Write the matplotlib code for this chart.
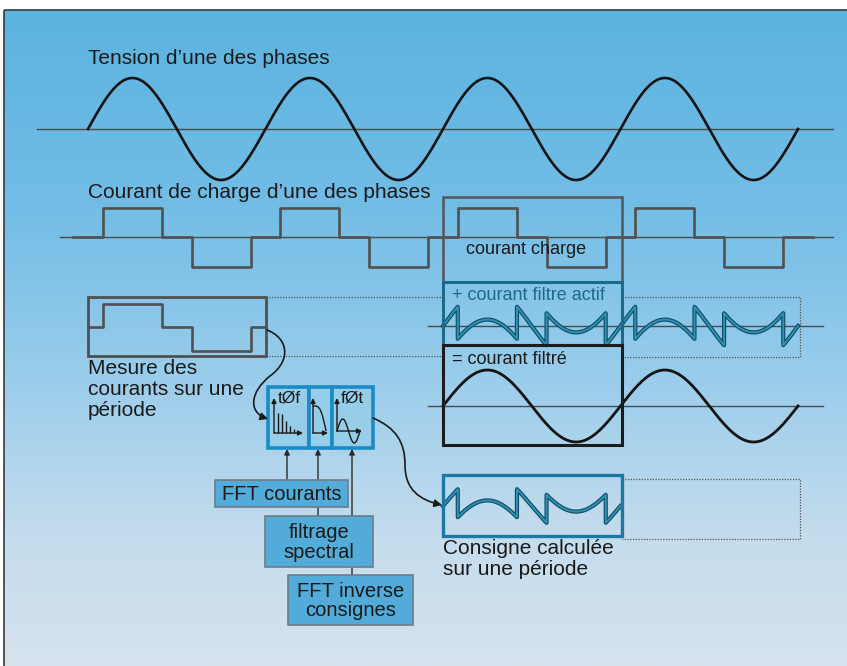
import numpy as np
import matplotlib.pyplot as plt
import matplotlib.transforms as mtransforms
from matplotlib.colors import LinearSegmentedColormap
from matplotlib.patches import Rectangle, FancyArrowPatch
from matplotlib.path import Path

plt.rcParams['font.family'] = ['Liberation Sans', 'DejaVu Sans']

# --- waveform data (angle in degrees, levels relative to the load step) ---
n_periods_voltage = 4
load_edges_deg = [0, 30, 150, 210, 330, 360]      # 120 degree conduction blocks
load_levels = [0, 1, 0, -1, 0]
fund_amp = 1.2                                    # fundamental seen by the filter
spectrum = [20, 19, 12, 7, 4]                     # harmonic bars in the FFT icon
filter_gain = [1.0, 1.0, 0.97, 0.88, 0.7, 0.42, 0.1]

labels_left = ["Tension d\u2019une des phases",
               "Courant de charge d\u2019une des phases"]
mesure_label = "Mesure des\ncourants sur une\np\u00e9riode"
consigne_label = "Consigne calcul\u00e9e\nsur une p\u00e9riode"
box_labels = ["FFT courants", "filtrage\nspectral", "FFT inverse\nconsignes"]

# --- layout ---
W, H = 847, 666
X0 = 88          # pixel x of angle 0
PERIOD = 177.5   # pixels per 360 degrees
FS = 15

fig = plt.figure(figsize=(W / 100, H / 100), dpi=100)
fig.patch.set_facecolor('white')
ax = fig.add_axes([0, 0, 1, 1])
ax.set_xlim(0, W)
ax.set_ylim(H, 0)
ax.axis('off')

# background gradient inside the frame
bg = LinearSegmentedColormap.from_list('bg', [
    (0.0, '#5cb3e0'), (0.3, '#72bde6'), (0.55, '#98cceb'),
    (0.8, '#c4dced'), (1.0, '#d6e3ee')])
grad = np.linspace(0, 1, 256).reshape(-1, 1)
ax.imshow(grad, cmap=bg, extent=(4, W, H, 10), aspect='auto', zorder=0)
ax.add_patch(Rectangle((4, 10), W, H, fill=False, ec='#3a3a3a', lw=1.2, zorder=1))


def strip(y0, unit):
    # angle (deg) -> pixel x, level -> pixel y (upwards)
    return mtransforms.Affine2D().scale(PERIOD / 360, -unit).translate(X0, y0) + ax.transData


def load(theta):
    t = np.mod(theta, 360)
    idx = np.clip(np.searchsorted(load_edges_deg, t, side='right') - 1, 0, len(load_levels) - 1)
    return np.array(load_levels)[idx]


def load_steps(t0, t1):
    edges = [e + 360 * k for k in range(-1, 6) for e in load_edges_deg[1:-1]]
    edges = [e for e in edges if t0 < e < t1]
    xs = [t0] + [e for e in edges for _ in (0, 1)] + [t1]
    pts = [t0] + edges + [t1]
    ys = []
    for a, b in zip(pts[:-1], pts[1:]):
        lv = load((a + b) / 2)
        ys += [lv, lv]
    return np.array(xs), np.array(ys)


def hline(y, x1, x2):
    ax.plot([x1, x2], [y, y], color='#4a4a4a', lw=1.0, zorder=2)


# --- voltage ---
hline(129, 37, 833)
th = np.linspace(0, 360 * n_periods_voltage, 1500)
ax.plot(th, np.sin(np.radians(th)), color='#141414', lw=1.9, transform=strip(129, 51), zorder=3)
ax.text(88, 58, labels_left[0], fontsize=FS, va='center', color='#1a1a1a')

# --- load current ---
hline(237, 60, 833)
lx, ly = load_steps(-30, 1470)
ax.plot(lx, ly, color='#505050', lw=1.9, transform=strip(237, 29.5), zorder=3)
ax.text(88, 192, labels_left[1], fontsize=FS, va='center', color='#1a1a1a')

# --- measurement over one period ---
ax.add_patch(Rectangle((88, 297), 178, 59, fill=False, ec='#505050', lw=2, zorder=3))
mx, my = load_steps(0, 360)
ax.plot(mx, my, color='#505050', lw=1.9, transform=strip(327, 23.5), zorder=3)
ax.text(88, 359, mesure_label, fontsize=FS, va='top', linespacing=1.12, color='#1a1a1a')

# dotted continuation boxes
dot = dict(color='#555555', lw=0.9, ls=(0, (1, 1.2)), zorder=2)
ax.plot([266, 443], [297, 297], **dot)
ax.plot([266, 443], [356, 356], **dot)
ax.plot([622, 800, 800, 622], [297, 297, 357, 357], **dot)
ax.plot([622, 800, 800, 622], [479, 479, 539, 539], **dot)

# --- filter currents ---
hline(326, 428, 823)
hline(406, 428, 823)
tf = np.linspace(720, 1440, 6000)
comp = fund_amp * np.sin(np.radians(tf)) - load(tf)
for lw, c in [(3.0, '#124a60'), (1.4, '#2b93b8')]:
    ax.plot(tf, comp, color=c, lw=lw, transform=strip(326, 32), zorder=4)
ax.plot(tf, np.sin(np.radians(tf)), color='#141414', lw=2.0, transform=strip(406, 36), zorder=4)

FS_IN = 13
ax.add_patch(Rectangle((443, 197), 179, 85, fill=False, ec='#555555', lw=1.8, zorder=5))
ax.add_patch(Rectangle((443, 282), 179, 63, fill=False, ec='#1d6a88', lw=2.2, zorder=5))
ax.add_patch(Rectangle((443, 345), 179, 100, fill=False, ec='#1c1c1c', lw=2.2, zorder=5))
ax.text(466, 250, "courant charge", fontsize=FS_IN, va='center', color='#1a1a1a', zorder=6)
ax.text(452, 295, "+ courant filtre actif", fontsize=FS_IN, va='center', color='#1d6a88', zorder=6)
ax.text(452, 360, "= courant filtr\u00e9", fontsize=FS_IN, va='center', color='#1a1a1a', zorder=6)

# --- calculated reference ---
ax.add_patch(Rectangle((443, 475), 179, 61, fill=False, ec='#1d78a4', lw=2.4, zorder=5))
tc = np.linspace(720, 1080, 3000)
cons = fund_amp * np.sin(np.radians(tc)) - load(tc)
for lw, c in [(3.0, '#124a60'), (1.4, '#2b93b8')]:
    ax.plot(tc, cons, color=c, lw=lw, transform=strip(506, 28), zorder=4)
ax.text(443, 539, consigne_label, fontsize=FS, va='top', linespacing=1.12, color='#1a1a1a')

# --- FFT processing block ---
blue = '#1a8cc4'
for x1, x2 in [(268, 309), (309, 332), (332, 373)]:
    ax.add_patch(Rectangle((x1, 387), x2 - x1, 61, fc='#96cde9', ec=blue, lw=2.6, zorder=6))

icon = dict(color='#1a1a1a', lw=1.0, zorder=7)
ar = dict(arrowstyle='-|>', mutation_scale=7, color='#1a1a1a', lw=1.0, zorder=7,
          shrinkA=0, shrinkB=0)
for xa, ya, xe in [(274, 433, 303), (313, 433, 328), (337, 431, 362)]:
    ax.add_patch(FancyArrowPatch((xa, ya), (xa, 398), **ar))
    ax.add_patch(FancyArrowPatch((xa, ya), (xe, ya), **ar))
ax.vlines(278 + 4 * np.arange(len(spectrum)), 433, 433 - np.array(spectrum), **icon)
gx = np.linspace(314, 326, len(filter_gain))
ax.plot(gx, 433 - 27 * np.array(filter_gain), **icon)
ts = np.linspace(0, 360, 60)
ax.plot(337 + ts * 23 / 360, 431 - 12 * np.sin(np.radians(ts)), **icon)
ax.text(278, 398, "t\u00d8f", fontsize=12.5, va='center', color='#1a1a1a', zorder=7)
ax.text(341, 398, "f\u00d8t", fontsize=12.5, va='center', color='#1a1a1a', zorder=7)

# arrows from the command boxes up to the FFT block
up = dict(arrowstyle='-|>', mutation_scale=8, color='#2a2a2a', lw=1.0, zorder=2,
          shrinkA=0, shrinkB=0)
for x, y in [(287, 480), (318, 516), (352, 575)]:
    ax.add_patch(FancyArrowPatch((x, y), (x, 449), **up))

boxes = [(215, 480, 133, 27), (265, 516, 108, 51), (288, 575, 125, 50)]
for (bx, by, bw, bh), lab in zip(boxes, box_labels):
    ax.add_patch(Rectangle((bx, by), bw, bh, fc='#52abd8', ec='#6d7d88', lw=1.2, zorder=3))
    ax.text(bx + bw / 2, by + bh / 2 + 1, lab, fontsize=14.5, ha='center', va='center',
            linespacing=1.05, color='#1a1a1a', zorder=4)

# curved arrows
p1 = Path([(267, 330), (288, 338), (292, 360), (270, 376),
           (250, 392), (248, 412), (268, 419)],
          [Path.MOVETO, Path.CURVE4, Path.CURVE4, Path.CURVE4,
           Path.CURVE4, Path.CURVE4, Path.CURVE4])
p2 = Path([(373, 418), (396, 428), (405, 442), (405, 465),
           (405, 490), (420, 500), (442, 505)],
          [Path.MOVETO, Path.CURVE4, Path.CURVE4, Path.CURVE4,
           Path.CURVE4, Path.CURVE4, Path.CURVE4])
for p in (p1, p2):
    ax.add_patch(FancyArrowPatch(path=p, arrowstyle='-|>', mutation_scale=11,
                                 color='#1a1a1a', lw=1.2, zorder=8))

plt.savefig('out.png', dpi=100)
